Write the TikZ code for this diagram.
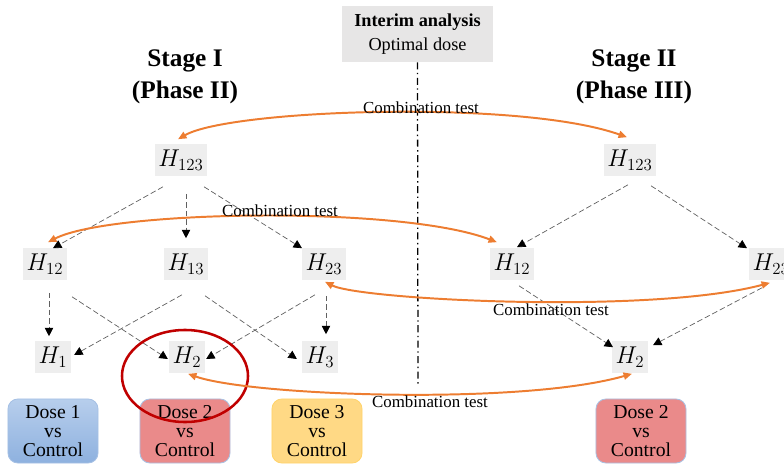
\documentclass[tikz,border=0pt]{standalone}
\usepackage{fontspec}
\setmainfont{Liberation Serif}
\usetikzlibrary{arrows.meta}
\definecolor{hgray}{HTML}{EEEEEE}
\definecolor{boxgray}{HTML}{E7E6E6}
\definecolor{ctorange}{HTML}{ED7D31}
\definecolor{dosered}{HTML}{EA8A8A}
\definecolor{doseredline}{HTML}{A9C1E3}
\definecolor{doseblueA}{HTML}{B7CEEC}
\definecolor{doseblueB}{HTML}{8EB1DF}
\definecolor{doseblueline}{HTML}{A5C0E4}
\definecolor{doseyellow}{HTML}{FFD985}
\definecolor{doseyellowline}{HTML}{FFD36A}
\definecolor{circlered}{HTML}{C00000}

\begin{document}
\begin{tikzpicture}[
    x=0.025cm, y=-0.025cm,
    hnode/.style={fill=hgray, inner xsep=2.5pt, inner ysep=0pt, minimum height=0.775cm, font=\fontsize{16.5}{19}\selectfont},
    stagelabel/.style={align=center, inner sep=0pt, font=\bfseries\fontsize{18}{22.7}\selectfont},
    dosebox/.style={draw, rounded corners=7pt, line width=0.6pt, minimum width=2.25cm, minimum height=1.6cm, align=center, inner sep=0pt, font=\fontsize{14}{13.5}\selectfont},
    ctlabel/.style={inner sep=0pt, font=\fontsize{12}{14}\selectfont},
    dasharrow/.style={gray!75!black, line width=0.5pt, dash pattern=on 4pt off 2pt, -{Triangle[length=6pt, width=6pt, color=black]}},
    ctarrow/.style={ctorange, line width=1.4pt, {Triangle[length=6pt, width=5pt]}-{Triangle[length=6pt, width=5pt]}},
    dashdotline/.style={black, line width=0.9pt, dash pattern=on 5pt off 2.5pt on 1pt off 2.5pt}
]
    \useasboundingbox (0,0) rectangle (784,466);

    % Headings
    \node[stagelabel] (stage1) at (185,77) {Stage I\\(Phase II)};
    \node[stagelabel] (stage2) at (634,77) {Stage II\\(Phase III)};
    \node[fill=boxgray, minimum width=3.775cm, minimum height=1.4cm, align=center, inner sep=0pt, font=\fontsize{13}{17}\selectfont] (interim) at (417.5,34) {\textbf{Interim analysis}\\Optimal dose};

    % Interim split
    \coordinate (splitend) at (418,387);
    \draw[dashdotline] (interim.south) -- (splitend);

    % Stage I hypotheses
    \node[hnode] (h123L) at (181,160) {$H_{123}$};
    \node[hnode] (h12L) at (45,264) {$H_{12}$};
    \node[hnode] (h13L) at (186,264) {$H_{13}$};
    \node[hnode] (h23L) at (324,264) {$H_{23}$};
    \node[hnode] (h1L) at (53,357) {$H_{1}$};
    \node[hnode] (h2L) at (187,357) {$H_{2}$};
    \node[hnode] (h3L) at (320,357) {$H_{3}$};

    % Stage II hypotheses
    \node[hnode] (h123R) at (630,160) {$H_{123}$};
    \node[hnode] (h12R) at (512,264) {$H_{12}$};
    \node[hnode] (h23R) at (771,264) {$H_{23}$};
    \node[hnode] (h2R) at (630,357) {$H_{2}$};

    % Closed testing, stage I
    \draw[dasharrow] ([shift={(-18,11)}]h123L.south) -- ([shift={(8,0)}]h12L.north);
    \draw[dasharrow] ([shift={(5,18)}]h123L.south) -- ([shift={(0,-10)}]h13L.north);
    \draw[dasharrow] ([shift={(23,11)}]h123L.south) -- ([shift={(-22,0)}]h23L.north);
    \draw[dasharrow] ([shift={(4,13)}]h12L.south) -- ([shift={(-4,-5)}]h1L.north);
    \draw[dasharrow] ([shift={(27,17)}]h12L.south) -- ([shift={(-1,2)}]h2L.west);
    \draw[dasharrow] ([shift={(-4,15)}]h13L.south) -- ([shift={(3,-2)}]h1L.east);
    \draw[dasharrow] ([shift={(19,16)}]h13L.south) -- ([shift={(-5,2)}]h3L.west);
    \draw[dasharrow] ([shift={(-9,15)}]h23L.south) -- ([shift={(1,2)}]h2L.east);
    \draw[dasharrow] ([shift={(2,16)}]h23L.south) -- ([shift={(6,-7)}]h3L.north);

    % Closed testing, stage II
    \draw[dasharrow] ([shift={(-2,9)}]h123R.south) -- ([shift={(5,-1)}]h12R.north);
    \draw[dasharrow] ([shift={(21,10)}]h123R.south) -- ([shift={(-24,0)}]h23R.north);
    \draw[dasharrow] ([shift={(7,6)}]h12R.south) -- ([shift={(-17,6)}]h2R.north);
    \draw[dasharrow] ([shift={(-9,8)}]h23R.south) -- ([shift={(23,4)}]h2R.north);

    % Dose boxes
    \node[dosebox, draw=doseblueline, top color=doseblueA, bottom color=doseblueB] (dose1) at (53,431) {Dose 1\\vs\\Control};
    \node[dosebox, draw=doseredline, fill=dosered] (dose2) at (185,431) {Dose 2\\vs\\Control};
    \node[dosebox, draw=doseyellowline, fill=doseyellow] (dose3) at (317,431) {Dose 3\\vs\\Control};
    \node[dosebox, draw=doseredline, fill=dosered] (dose2R) at (641,431) {Dose 2\\vs\\Control};

    % Selected dose
    \draw[circlered, line width=1.8pt] (185,376) ellipse [x radius=1.575cm, y radius=1.15cm];

    % Combination tests
    \draw[ctarrow] ([shift={(-3,-5)}]h123L.north) .. controls +(52,-30) and +(-107,-38) .. ([shift={(-3,-7)}]h123R.north);
    \draw[ctarrow] ([shift={(3,-6)}]h12L.north) .. controls +(62,-32) and +(-97,-37) .. ([shift={(-15,-6)}]h12R.north);
    \draw[ctarrow] ([shift={(1,2)}]h23L.south) .. controls +(35,18) and +(-120,32) .. ([shift={(-1,3)}]h23R.south);
    \draw[ctarrow] ([shift={(1,1)}]h2L.south) .. controls +(62,22) and +(-112,32) .. ([shift={(2,1)}]h2R.south);
    \node[ctlabel] (ct1) at (421,108) {Combination test};
    \node[ctlabel] (ct2) at (280,211) {Combination test};
    \node[ctlabel] (ct3) at (551,310) {Combination test};
    \node[ctlabel] (ct4) at (430,402) {Combination test};

\end{tikzpicture}
\end{document}
